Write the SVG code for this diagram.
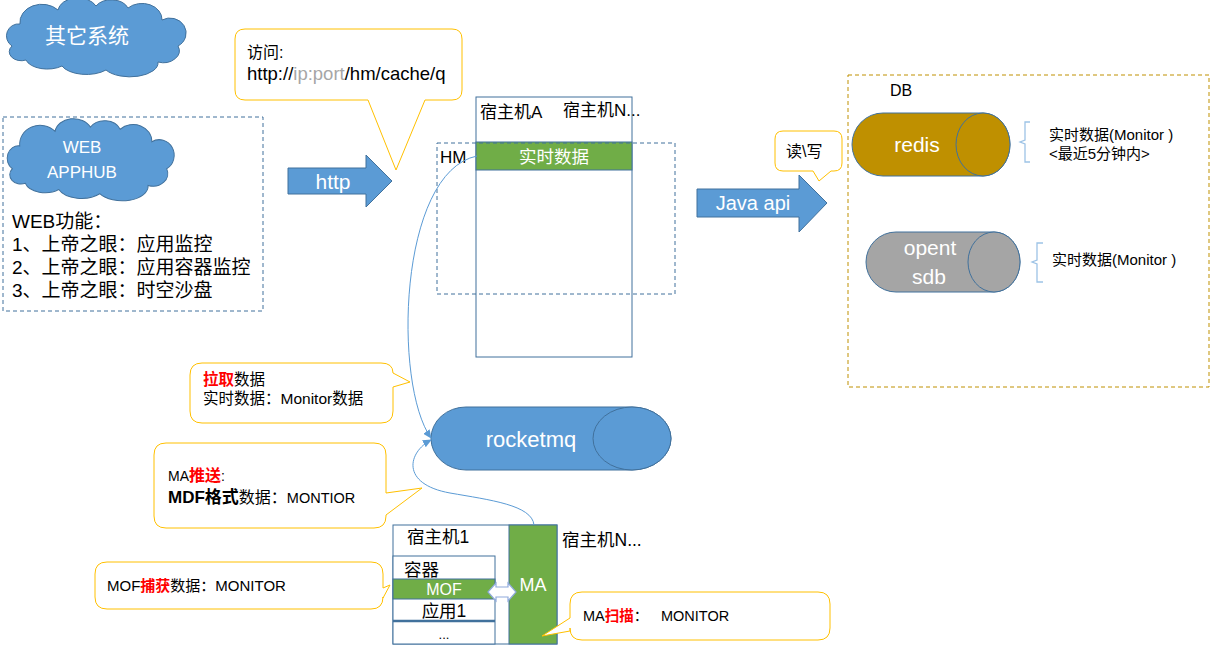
<svg xmlns="http://www.w3.org/2000/svg" width="1216" height="656" viewBox="0 0 1216 656">
<style>
text { font-family: "Liberation Sans","Noto Sans CJK SC",sans-serif; fill:#000; }
.w { fill:#fff; }
.mid { text-anchor:middle; }
.cloud { fill:#5B9BD5; stroke:#41719C; stroke-width:1; }
.dash { fill:none; stroke:#41719C; stroke-width:1; stroke-dasharray:4 3; }
.dbdash { fill:none; stroke:#BF9000; stroke-width:1; stroke-dasharray:4 3; }
.call { fill:#fff; stroke:#FFC000; stroke-width:1; }
.blue { fill:#5B9BD5; stroke:#41719C; stroke-width:1; }
.green { fill:#70AD47; stroke:#41719C; stroke-width:1; }
.box { fill:#fff; stroke:#41719C; stroke-width:1; }
.conn { fill:none; stroke:#5B9BD5; stroke-width:1; }
.brace { fill:none; stroke:#9DC3E6; stroke-width:1.3; }
.red { fill:#FF0000; font-weight:bold; }
.gray { fill:#A6A6A6; }
</style>
<defs>
<path id="cloudShape" d="M10,44 A12,12 0 0 1 18,22 A22,18 0 0 1 56,8 A20,14 0 0 1 94,4 A18,13 0 0 1 126,6 A20,16 0 0 1 160,18 A14,13 0 0 1 176,44 A16,12 0 0 1 156,60 A28,14 0 0 1 104,68 A26,13 0 0 1 60,64 A22,12 0 0 1 24,58 A12,9 0 0 1 10,44 Z"/>
<marker id="arr" markerWidth="9" markerHeight="8" refX="8" refY="4" orient="auto" markerUnits="userSpaceOnUse">
<path d="M0,0 L9,4 L0,8 Z" fill="#5B9BD5"/>
</marker>
</defs>

<g id="cloud-other">
<use href="#cloudShape" class="cloud" transform="translate(2,2)"/>
<text class="w mid" x="87" y="43" font-size="21">其它系统</text>
</g>

<g id="web">
<rect class="dash" x="3" y="117" width="260" height="194"/>
<use href="#cloudShape" class="cloud" transform="translate(3,123) scale(0.93,1.04)"/>
<text class="w mid" x="82" y="153" font-size="17">WEB</text>
<text class="w mid" x="82" y="178" font-size="17">APPHUB</text>
<text x="12" y="228" font-size="19">WEB功能：</text>
<text x="12" y="251" font-size="19">1、上帝之眼：应用监控</text>
<text x="12" y="274" font-size="19">2、上帝之眼：应用容器监控</text>
<text x="12" y="297" font-size="19">3、上帝之眼：时空沙盘</text>
</g>

<g id="callout-visit">
<path class="call" d="M245,29 H452 Q462,29 462,39 V90 Q462,100 452,100 H425 L396,170 L368,100 H245 Q235,100 235,90 V39 Q235,29 245,29 Z"/>
<text x="247" y="58" font-size="16">访问:</text>
<text x="247" y="80" font-size="18.5">http://<tspan class="gray">ip:port</tspan>/hm/cache/q</text>
</g>

<g id="http-arrow">
<path class="blue" d="M288,168 H366 V155 L392,181 L366,207 V194 H288 Z"/>
<text class="w mid" x="333" y="189" font-size="21">http</text>
</g>

<g id="host-a">
<rect class="box" x="476" y="97" width="156" height="260"/>
<rect class="green" x="476" y="142" width="156" height="28"/>
<text class="w mid" x="554" y="163" font-size="17.5">实时数据</text>
<text x="480" y="118" font-size="17">宿主机A</text>
<text x="563" y="116" font-size="17">宿主机N...</text>
</g>

<g id="hm">
<rect class="dash" x="437" y="143" width="238" height="151"/>
<text x="440" y="163" font-size="17">HM</text>
</g>

<g id="java-api">
<path class="blue" d="M697,189 H799 V175 L827,203 L799,232 V217 H697 Z"/>
<text class="w mid" x="753" y="210" font-size="20">Java api</text>
</g>

<g id="callout-rw">
<path class="call" d="M783,131 H834 Q842,131 842,139 V163 Q842,171 834,171 H831 L819,181 L813,171 H783 Q775,171 775,163 V139 Q775,131 783,131 Z"/>
<text x="786" y="157" font-size="16">读\写</text>
</g>

<g id="db">
<rect class="dbdash" x="848" y="75" width="361" height="312"/>
<text x="890" y="96" font-size="16">DB</text>
</g>

<g id="redis">
<path d="M883,113 H983 A27,31.5 0 0 1 983,176 H883 A31,31.5 0 0 1 883,113 Z" fill="#BF9000" stroke="#41719C"/>
<ellipse cx="983" cy="144.5" rx="27" ry="31.5" fill="#BF9000" stroke="#41719C"/>
<text class="w mid" x="917" y="152" font-size="21">redis</text>
<path class="brace" d="M1030,122 H1025 V140 L1020,142 L1025,144 V162 H1030"/>
<text x="1049" y="140" font-size="15">实时数据(Monitor )</text>
<text x="1049" y="159" font-size="15">&lt;最近5分钟内&gt;</text>
</g>

<g id="opentsdb">
<path d="M896,232 H994 A26,30 0 0 1 994,292 H896 A30,30 0 0 1 896,232 Z" fill="#A5A5A5" stroke="#41719C"/>
<ellipse cx="994" cy="262" rx="26" ry="30" fill="#A5A5A5" stroke="#41719C"/>
<text class="w mid" x="930" y="255" font-size="21">opent</text>
<text class="w mid" x="929" y="284" font-size="21">sdb</text>
<path class="brace" d="M1043,243 H1037 V260 L1032,262 L1037,264 V282 H1043"/>
<text x="1052" y="265" font-size="15">实时数据(Monitor )</text>
</g>

<g id="callout-pull">
<path class="call" d="M202,363 H381 Q393,363 393,373 L410,382 L393,387 V411 Q393,423 381,423 H202 Q190,423 190,411 V375 Q190,363 202,363 Z"/>
<text x="203" y="385" font-size="15.5"><tspan class="red">拉取</tspan>数据</text>
<text x="203" y="404" font-size="15.5">实时数据：Monitor数据</text>
</g>

<g id="rocketmq">
<path d="M466,407 H632 A39,31.5 0 0 1 632,470 H466 A35,31.5 0 0 1 466,407 Z" fill="#5B9BD5" stroke="#41719C"/>
<ellipse cx="632" cy="438.5" rx="39" ry="31.5" fill="#5B9BD5" stroke="#41719C"/>
<text class="w mid" x="531" y="447" font-size="22">rocketmq</text>
</g>

<g id="callout-push">
<path class="call" d="M166,443 H374 Q386,443 386,455 V493 L422,488 L386,515 V516 Q386,528 374,528 H166 Q154,528 154,516 V455 Q154,443 166,443 Z"/>
<text x="168" y="481" font-size="14">MA<tspan class="red" font-size="16">推送</tspan>:</text>
<text x="168" y="503"><tspan font-size="17" font-weight="bold">MDF格式</tspan><tspan font-size="16">数据：</tspan><tspan font-size="14.5">MONTIOR</tspan></text>
</g>

<g id="host-1">
<rect class="box" x="393" y="525" width="164" height="119"/>
<rect class="box" x="393" y="556" width="102" height="88"/>
<rect class="green" x="393" y="579" width="102" height="20"/>
<line x1="393" y1="621" x2="495" y2="621" stroke="#41719C" stroke-width="2.5"/>
<text x="407" y="543" font-size="17.5">宿主机1</text>
<text x="404" y="576" font-size="17.5">容器</text>
<text class="w mid" x="444" y="595" font-size="16">MOF</text>
<text class="mid" x="444" y="617" font-size="17.5">应用1</text>
<text class="mid" x="444" y="639" font-size="13">...</text>
</g>

<g id="ma">
<rect class="green" x="509" y="525" width="48" height="119"/>
<text class="w mid" x="533" y="591" font-size="18">MA</text>
</g>

<text x="562" y="546" font-size="17.5">宿主机N...</text>

<g id="callout-capture">
<path class="call" d="M107,562 H371 Q383,562 383,574 V588 L390,585 L383,598 V597 Q383,609 371,609 H107 Q95,609 95,597 V574 Q95,562 107,562 Z"/>
<text x="107" y="591" font-size="15">MOF<tspan class="red">捕获</tspan>数据：MONITOR</text>
</g>

<g id="callout-scan">
<path class="call" d="M582,592 H818 Q830,592 830,604 V628 Q830,640 818,640 H582 Q570,640 570,628 V631 L542,636 L570,618 V604 Q570,592 582,592 Z"/>
<text x="583" y="621" font-size="14.5">MA<tspan class="red">扫描</tspan>：</text>
<text x="661" y="621" font-size="14.5">MONITOR</text>
</g>

<g id="connectors">
<path class="conn" d="M477,156 C398,172 393,385 431,438" marker-end="url(#arr)"/>
<path class="conn" d="M534,525 C532,505 490,500 450,493 C400,484 408,452 431,440" marker-end="url(#arr)"/>
<path d="M488,592 L496,583 V587 H508 V583 L516,592 L508,601 V597 H496 V601 Z" fill="#fff" stroke="#8FAADC" stroke-width="1.2"/>
</g>
</svg>
